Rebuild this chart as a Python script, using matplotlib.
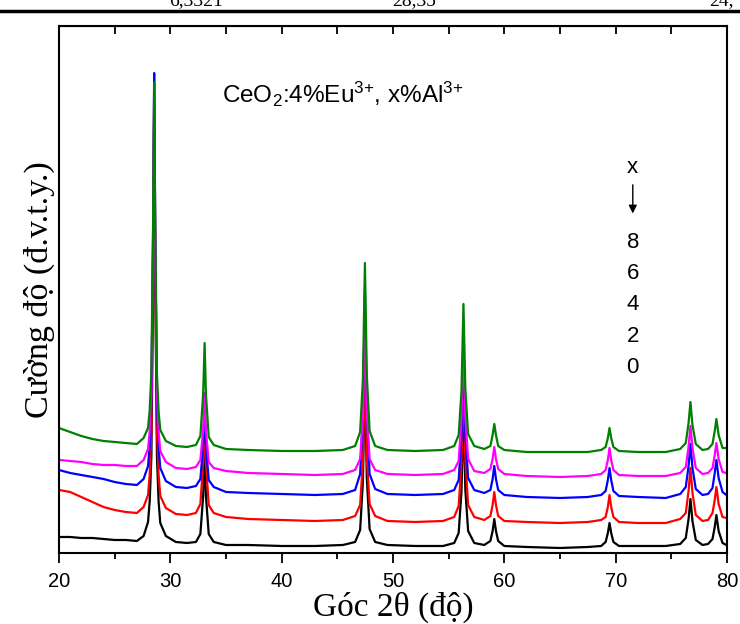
"""XRD patterns of CeO2:4%Eu3+, x%Al3+ (x = 0, 2, 4, 6, 8)."""

import matplotlib
matplotlib.use("Agg")
import matplotlib.pyplot as plt
from matplotlib.ticker import MultipleLocator

# 2-theta sampling points (deg), shared by all five patterns
two_theta = [20, 21, 22, 23, 24, 25, 26, 27, 27.6,
             28.0, 28.15, 28.3, 28.45, 28.55, 28.65, 28.8, 28.95, 29.1, 29.6,
             30.5, 31.5, 32.3,
             32.7, 32.95, 33.08, 33.2, 33.45, 33.9,
             35, 37, 40, 43, 45.5, 46.6,
             47.05, 47.3, 47.48, 47.65, 47.9, 48.4,
             49.5, 52, 54.5, 55.5,
             55.9, 56.15, 56.33, 56.5, 56.75, 57.3,
             58.2,
             58.75, 58.95, 59.1, 59.25, 59.45, 60.0,
             62, 65, 67.5, 68.7,
             69.1, 69.3, 69.45, 69.6, 69.8, 70.3,
             72, 74.5, 75.8,
             76.3, 76.55, 76.72, 76.9, 77.2, 77.8,
             78.3,
             78.7, 78.9, 79.05, 79.25, 79.6, 79.95]

# intensities (arb. units, already stacked)
int_x0 = [16, 16, 15, 15, 14, 13, 13, 12, 17,
          31, 52, 97, 268, 438, 267, 96, 51, 30, 17,
          11, 10, 11,
          19, 57, 103, 57, 19, 11,
          8, 8, 7, 7, 8, 11,
          23, 72, 178, 75, 24, 11,
          8, 7, 7, 10,
          20, 61, 141, 63, 22, 10,
          8,
          12, 22, 34, 22, 12, 7,
          6, 5, 6, 7,
          11, 20, 30, 20, 11, 7,
          7, 7, 9,
          15, 34, 54, 32, 13, 8,
          9,
          14, 26, 38, 22, 10, 8]
int_x2 = [63, 61, 56, 51, 46, 43, 41, 40, 46,
          58, 79, 122, 285, 448, 284, 121, 78, 57, 45,
          39, 38, 40,
          49, 90, 141, 90, 48, 40,
          36, 34, 33, 32, 33, 37,
          48, 92, 188, 95, 49, 37,
          32, 31, 32, 36,
          47, 90, 178, 93, 48, 36,
          33,
          37, 48, 61, 48, 37, 32,
          31, 30, 31, 33,
          36, 46, 58, 46, 36, 31,
          30, 30, 34,
          40, 62, 85, 60, 38, 32,
          33,
          40, 53, 66, 49, 36, 35]
int_x4 = [83, 80, 78, 76, 74, 71, 69, 68, 74,
          87, 107, 150, 315, 480, 314, 149, 105, 85, 72,
          66, 65, 67,
          74, 107, 148, 107, 73, 66,
          61, 60, 59, 58, 59, 63,
          79, 137, 263, 141, 79, 64,
          59, 58, 59, 63,
          73, 115, 200, 118, 75, 63,
          60,
          63, 74, 87, 74, 63, 58,
          56, 55, 56, 58,
          62, 73, 85, 73, 62, 57,
          56, 55, 59,
          66, 87, 109, 85, 64, 58,
          59,
          65, 80, 93, 75, 61, 58]
int_x6 = [93, 92, 91, 89, 88, 88, 87, 87, 93,
          104, 122, 161, 310, 458, 309, 159, 120, 102, 91,
          85, 84, 86,
          93, 123, 160, 122, 91, 85,
          82, 80, 79, 78, 79, 83,
          94, 138, 233, 141, 94, 83,
          79, 78, 79, 83,
          92, 133, 213, 135, 94, 82,
          80,
          84, 94, 106, 94, 84, 79,
          77, 76, 77, 79,
          83, 93, 105, 93, 83, 78,
          77, 77, 80,
          86, 106, 127, 105, 85, 79,
          80,
          85, 98, 110, 94, 81, 80]
int_x8 = [125, 121, 117, 114, 112, 111, 110, 109, 115,
          125, 143, 181, 326, 471, 325, 179, 141, 123, 112,
          107, 106, 108,
          117, 159, 210, 159, 116, 108,
          104, 103, 102, 102, 103, 107,
          121, 174, 290, 178, 122, 107,
          103, 102, 103, 107,
          118, 161, 249, 164, 119, 107,
          104,
          107, 118, 129, 118, 107, 103,
          101, 101, 101, 103,
          106, 115, 125, 115, 106, 102,
          101, 101, 104,
          110, 130, 151, 128, 109, 103,
          104,
          109, 122, 134, 118, 105, 105]

patterns = [int_x0, int_x2, int_x4, int_x6, int_x8]
colors = ["black", "red", "blue", "magenta", "green"]
x_labels = ["8", "6", "4", "2", "0"]

plt.rcParams["font.family"] = ["Liberation Sans", "DejaVu Sans"]
plt.rcParams["mathtext.default"] = "regular"

fig = plt.figure(figsize=(7.4, 6.24), dpi=100)
ax = fig.add_axes([0.0797, 0.1138, 0.9027, 0.8445])

for y, c in zip(patterns, colors):
    ax.plot(two_theta, y, color=c, lw=1.6)

ax.set_xlim(20, 80)
ax.set_ylim(0, 527)
ax.xaxis.set_major_locator(MultipleLocator(10))
ax.xaxis.set_minor_locator(MultipleLocator(5))
ax.tick_params(axis="x", which="major", direction="out", length=7, width=1.3,
               labelsize=14.5, pad=7)
ax.tick_params(axis="x", which="minor", direction="out", length=4, width=1.3)
ax.set_yticks([])
for s in ax.spines.values():
    s.set_linewidth(1.5)

# inward ticks along the top frame
top = ax.secondary_xaxis("top")
top.xaxis.set_major_locator(MultipleLocator(5))
top.tick_params(direction="in", length=6, width=1.3, labeltop=False)

serif = ["Liberation Serif", "DejaVu Serif"]
ax.set_xlabel("Góc 2θ (độ)", family=serif, fontsize=24, labelpad=0)
ax.set_ylabel("Cường độ (đ.v.t.y.)", family=serif, fontsize=24.5, labelpad=3)

# {+} keeps mathtext from spacing the plus sign like an operator
ax.text(0.244, 0.854, "CeO$_2$:4%Eu$^{3{+}}$, x%Al$^{3{+}}$",
        transform=ax.transAxes, fontsize=17.5, ha="left", va="baseline")

# "x" with arrow pointing to the list of Al contents
ax.text(0.859, 0.731, "x", transform=ax.transAxes, fontsize=16,
        ha="center", va="center")
ax.annotate("", xy=(0.859, 0.639), xytext=(0.859, 0.704),
            xycoords="axes fraction",
            arrowprops=dict(arrowstyle="-|>", color="black", lw=1,
                            mutation_scale=12))
for i, lab in enumerate(x_labels):
    ax.text(0.859, 0.590 - i * 0.0597, lab, transform=ax.transAxes,
            fontsize=16, ha="center", va="center")

# remnant of the table above the chart
fig.add_artist(plt.Line2D([0, 1], [0.982, 0.982], color="black", lw=2.5,
                          transform=fig.transFigure))
for xpos, txt in [(0.265, "6,3321"), (0.56, "28,35"), (0.975, "24,")]:
    fig.text(xpos, 0.992, txt, family=serif, fontsize=14, ha="center",
             va="baseline")

fig.savefig("out.png", dpi=100)
